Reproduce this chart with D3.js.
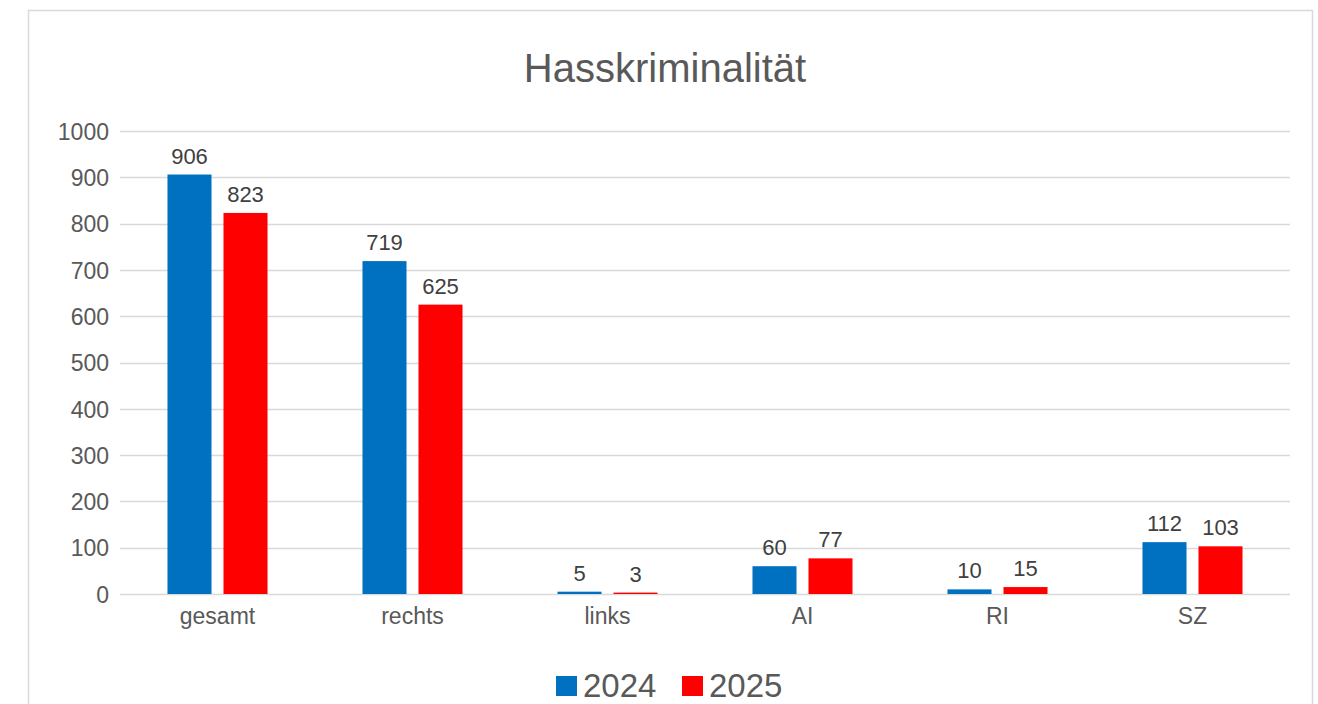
<!DOCTYPE html>
<html>
<head>
<meta charset="utf-8">
<script src="https://cdn.jsdelivr.net/npm/d3@7/dist/d3.min.js"></script>
<style>
html,body{margin:0;padding:0;background:#fff;}
svg{display:block;font-family:"Liberation Sans",Arial,sans-serif;}
</style>
</head>
<body>
<svg id="chart" width="1318" height="704"></svg>
<script>
const title = "Hasskriminalität";
const categories = ["gesamt","rechts","links","AI","RI","SZ"];
const seriesNames = ["2024","2025"];
const values2024 = [906,719,5,60,10,112];
const values2025 = [823,625,3,77,15,103];
const yTicks = [0,100,200,300,400,500,600,700,800,900,1000];
const colors = ["#0070c0","#ff0000"];

(function(){
const svg = d3.select("#chart");

// frame
svg.append("rect").attr("x",28.5).attr("y",10.5).attr("width",1284).attr("height",720)
  .attr("fill","#fff").attr("stroke","#d9d9d9").attr("stroke-width",1.5);

const mLeft = 120, mRight = 1290, mTop = 131, mBottom = 594;
const y = d3.scaleLinear().domain([0,1000]).range([mBottom, mTop]);
const x0 = d3.scaleBand().domain(categories).range([mLeft, mRight]).padding(0);
const groupW = x0.bandwidth()*0.513;
const x1 = d3.scaleBand().domain(seriesNames).range([-groupW/2, groupW/2]).paddingInner(0.214).paddingOuter(0);

// gridlines
svg.append("g").selectAll("line").data(yTicks).join("line")
  .attr("x1",mLeft).attr("x2",mRight)
  .attr("y1",d=>Math.round(y(d))+0.5).attr("y2",d=>Math.round(y(d))+0.5)
  .attr("stroke","#d9d9d9").attr("stroke-width",1.5);

// y axis labels
const yAxis = d3.axisLeft(y).tickValues(yTicks).tickFormat(d3.format("d")).tickSize(0).tickPadding(11);
const gy = svg.append("g").attr("transform",`translate(${mLeft},0)`).call(yAxis);
gy.select(".domain").remove();
gy.selectAll("text").attr("font-size",23).attr("fill","#595959")
  .attr("font-family","'Liberation Sans',Arial,sans-serif").attr("dy","0.36em");

// bars
const data = categories.map((c,i)=>({cat:c, vals:[values2024[i], values2025[i]]}));
const groups = svg.append("g").selectAll("g").data(data).join("g")
  .attr("transform",d=>`translate(${x0(d.cat)+x0.bandwidth()/2},0)`);
groups.selectAll("rect").data(d=>d.vals.map((v,j)=>({v, s:seriesNames[j], j}))).join("rect")
  .attr("x",d=>x1(d.s)).attr("width",x1.bandwidth())
  .attr("y",d=>y(d.v)).attr("height",d=>y(0)-y(d.v))
  .attr("fill",d=>colors[d.j]);
groups.selectAll("text").data(d=>d.vals.map((v,j)=>({v, s:seriesNames[j], j}))).join("text")
  .attr("x",d=>x1(d.s)+x1.bandwidth()/2).attr("y",d=>y(d.v)-11)
  .attr("text-anchor","middle").attr("font-size",22).attr("fill","#404040")
  .text(d=>d.v);

// x axis labels
const xAxis = d3.axisBottom(x0).tickSize(0).tickPadding(0);
const gx = svg.append("g").attr("transform",`translate(0,${mBottom})`).call(xAxis);
gx.select(".domain").remove();
gx.selectAll("text").attr("font-size",23).attr("fill","#595959")
  .attr("font-family","'Liberation Sans',Arial,sans-serif").attr("dy",0).attr("y",30);

// title
svg.append("text").attr("x",665).attr("y",82).attr("text-anchor","middle")
  .attr("font-size",40).attr("fill","#595959").text(title);

// legend
const legendItems = [{name:seriesNames[0], x:556},{name:seriesNames[1], x:682}];
const lg = svg.append("g").selectAll("g").data(legendItems).join("g")
  .attr("transform",d=>`translate(${d.x},0)`);
lg.append("rect").attr("x",0).attr("y",676).attr("width",21).attr("height",20)
  .attr("fill",(d,i)=>colors[i]);
lg.append("text").attr("x",27).attr("y",697).attr("font-size",33).attr("fill","#595959")
  .text(d=>d.name);
})();
</script>
</body>
</html>
